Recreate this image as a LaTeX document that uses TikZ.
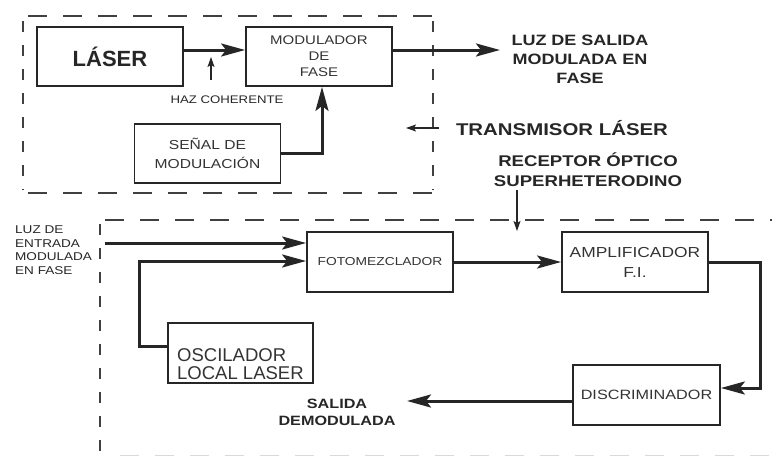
\documentclass[tikz,border=0pt]{standalone}
\usepackage{fontspec}
\setmainfont{Liberation Sans}
\newfontfamily\wf{Liberation Sans}[FakeStretch=1.2]
\usetikzlibrary{arrows.meta}
\newcommand{\fs}[2]{\fontsize{#1}{#2}\selectfont}

\begin{document}
\begin{tikzpicture}[x=1pt,y=-1pt,
  box/.style={draw=black!85, line width=1.8pt, minimum width=146pt, minimum height=59pt,
              inner sep=0pt, text=black!80, align=center},
  arr/.style={line width=3pt, draw=black!85, -{Stealth[length=24pt,width=13pt,inset=5pt]}},
  thinarr/.style={line width=1.1pt, draw=black!85, -{Stealth[length=10pt,width=7pt,inset=2pt]}},
  hdash/.style={draw=black!75, line width=2pt, dash pattern=on 19pt off 16pt},
  vdash/.style={draw=black!75, line width=2pt, dash pattern=on 11pt off 13pt},
  lbl/.style={inner sep=0pt, align=center, text=black!85}]

\useasboundingbox (0,0) rectangle (772,463);

% dashed enclosure of the transmitter
\draw[hdash] (28,16) -- (433,16);
\draw[hdash] (28,193) -- (433,193);
\draw[vdash] (23,21) -- (23,190);
\draw[vdash] (433,21) -- (433,190);

% dashed enclosure of the receiver
\draw[hdash] (105,220) -- (772,220);
\draw[vdash] (100,224) -- (100,463);
\draw[draw=black!15, line width=1pt, dash pattern=on 19pt off 16pt] (120,455) -- (772,455);

% transmitter blocks
\node[box, line width=2.8pt, font=\bfseries\fs{22}{24}, text=black!85] (laser) at (110,56.5) {LÁSER};
\node[box, font=\wf\fs{12.5}{16}] (mod) at (319,56.5) {MODULADOR\\DE\\FASE};
\node[box, font=\wf\fs{13}{19}] (senal) at (207.5,153.5) {SEÑAL DE\\MODULACIÓN};

% receiver blocks
\node[box, minimum height=60pt, font=\wf\fs{11.5}{14}] (foto) at (380,262) {FOTOMEZCLADOR};
\node[box, minimum height=60pt, font=\wf\fs{14.5}{20}] (amp) at (635,262) {AMPLIFICADOR\\F.I.};
\node[box, minimum height=60pt, minimum width=147pt, font=\wf\fs{13.5}{16}] (disc) at (646.5,395) {DISCRIMINADOR};
\node[box, minimum height=60pt, minimum width=145pt] (osc) at (240.5,353) {};
\node[lbl, anchor=west, align=left, text=black!80, font=\fs{18.5}{18}] (osctxt) at (177,364) {OSCILADOR\\LOCAL LASER};

% labels
\node[lbl, font=\wf\fs{11}{13}] (haz) at (227,100) {HAZ COHERENTE};
\node[lbl, font=\wf\bfseries\fs{15}{19}] (outlbl) at (580,59) {LUZ DE SALIDA\\MODULADA EN\\FASE};
\node[lbl, font=\wf\bfseries\fs{17}{20}] (txlbl) at (562,128) {TRANSMISOR LÁSER};
\node[lbl, font=\wf\bfseries\fs{15.5}{20}] (rxlbl) at (588,170) {RECEPTOR ÓPTICO\\SUPERHETERODINO};
\node[lbl, anchor=north west, align=left, font=\wf\fs{11.3}{13.5}] (inlbl) at (15,226) {LUZ DE\\ENTRADA\\MODULADA\\EN FASE};
\node[lbl, font=\wf\bfseries\fs{13.5}{17}] (demod) at (337,412) {SALIDA\\DEMODULADA};

% free ends of connectors
\coordinate (hazA) at (211,80);
\coordinate (hazB) at (211,57);
\coordinate (outTip) at (500,50);
\coordinate (txA) at (439,128);
\coordinate (txB) at (406,128);
\coordinate (rxA) at (517,190);
\coordinate (rxB) at (517,231);
\coordinate (inA) at (105,243);
\coordinate (demodTip) at (407,401);

% transmitter connectors
\draw[arr] ([yshift=6.5pt]laser.east) -- ([yshift=6.5pt]mod.west);
\draw[thinarr] (hazA) -- (hazB);
\draw[arr] (senal.east) -| ([xshift=3pt]mod.south);
\draw[arr] ([yshift=6.5pt]mod.east) -- (outTip);
\draw[thinarr] (txA) -- (txB);
\draw[thinarr] (rxA) -- (rxB);

% receiver connectors
\draw[arr] (inA) -- ([yshift=19pt]foto.west);
\draw[arr] ([yshift=7pt]osc.west) -- ++(-28,0) |- ([yshift=1pt]foto.west);
\draw[arr] (foto.east) -- (amp.west);
\draw[arr] (amp.east) -- ++(52,0) |- ([yshift=7pt]disc.east);
\draw[arr] ([yshift=-6pt]disc.west) -- (demodTip);

\end{tikzpicture}
\end{document}
